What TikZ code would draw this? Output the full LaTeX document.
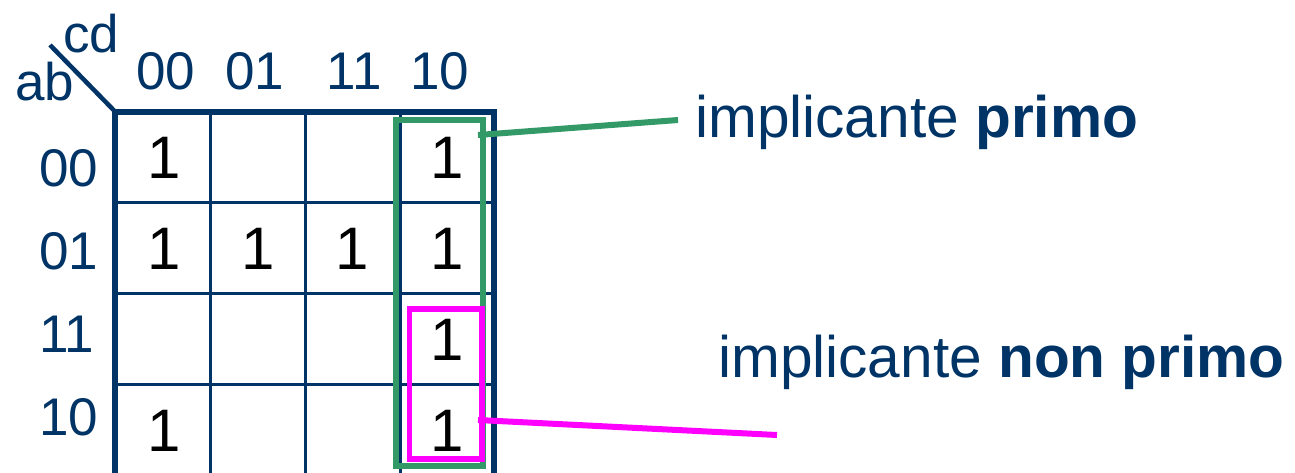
\documentclass[tikz,border=0pt]{standalone}
\usepackage{fontspec}
\setmainfont{Liberation Sans}
\definecolor{kblue}{RGB}{0,51,102}
\definecolor{kgreen}{RGB}{51,153,102}
\definecolor{kmagenta}{RGB}{255,0,255}
\usetikzlibrary{positioning}

\begin{document}
\begin{tikzpicture}[x=1pt, y=-1pt,
    kgrid/.style={draw=kblue, line width=3pt},
    kborder/.style={draw=kblue, line width=6pt, line join=miter},
    kone/.style={font=\fontsize{60}{72}\selectfont, inner sep=0pt},
    khead/.style={text=kblue, font=\fontsize{53}{64}\selectfont, inner sep=0pt},
    knote/.style={text=kblue, font=\fontsize{58.6}{70}\selectfont, inner sep=0pt, anchor=base west},
    kgroup/.style={rectangle, inner sep=0pt, outer sep=0pt, fill=none}]
    \useasboundingbox (0,0) rectangle (1295,472);

    % Karnaugh map lines
    \coordinate (corner) at (115,111.5);
    \coordinate (tick) at (50,45);
    \foreach \x in {210,305,400}
        \draw[kgrid] (\x,111.5) -- (\x,478);
    \foreach \y in {202,293,384}
        \draw[kgrid] (115,\y) -- (494,\y);
    \draw[kborder] (115,478) -- (corner) -- (494,111.5) -- (494,478);
    \draw[kblue, line width=4.5pt] (tick) -- (corner);

    % Variable names and headings
    \node[khead, anchor=base] (cd) at (91,52) {cd};
    \node[khead, anchor=base] (ab) at (45,100) {ab};
    \foreach \t/\x in {00/166,01/255,11/354,10/440}
        \node[khead] (col\t) at (\x,71) {\t};
    \foreach \t/\y in {00/168,01/251,11/334,10/417}
        \node[khead, anchor=west] (row\t) at (39,\y) {\t};

    % Cells with value 1
    \foreach \r/\c in {0/0,0/3,1/0,1/1,1/2,1/3,2/3,3/0,3/3}
        \node[kone] (m\r\c) at (164+94.3*\c,158+91*\r) {1};

    % Implicants
    \node[kgroup, draw=kgreen, line width=6pt, minimum width=87pt, minimum height=346pt] (primo) at (439.5,293) {};
    \node[kgroup, draw=kmagenta, line width=5.5pt, minimum width=72.5pt, minimum height=150pt] (nonprimo) at (445.75,384) {};

    % Notes
    \node[knote] (tprimo) at (695,137) {implicante \textbf{primo}};
    \node[knote] (tnonprimo) at (718,377) {implicante \textbf{non primo}};
    \coordinate (gend) at (678,120);
    \coordinate (mend) at (777,435);
    \draw[kgreen, line width=6pt] ([shift={(-5,15)}]primo.north east) -- (gend);
    \draw[kmagenta, line width=6pt] ([shift={(-4,-39)}]nonprimo.south east) -- (mend);
\end{tikzpicture}
\end{document}
